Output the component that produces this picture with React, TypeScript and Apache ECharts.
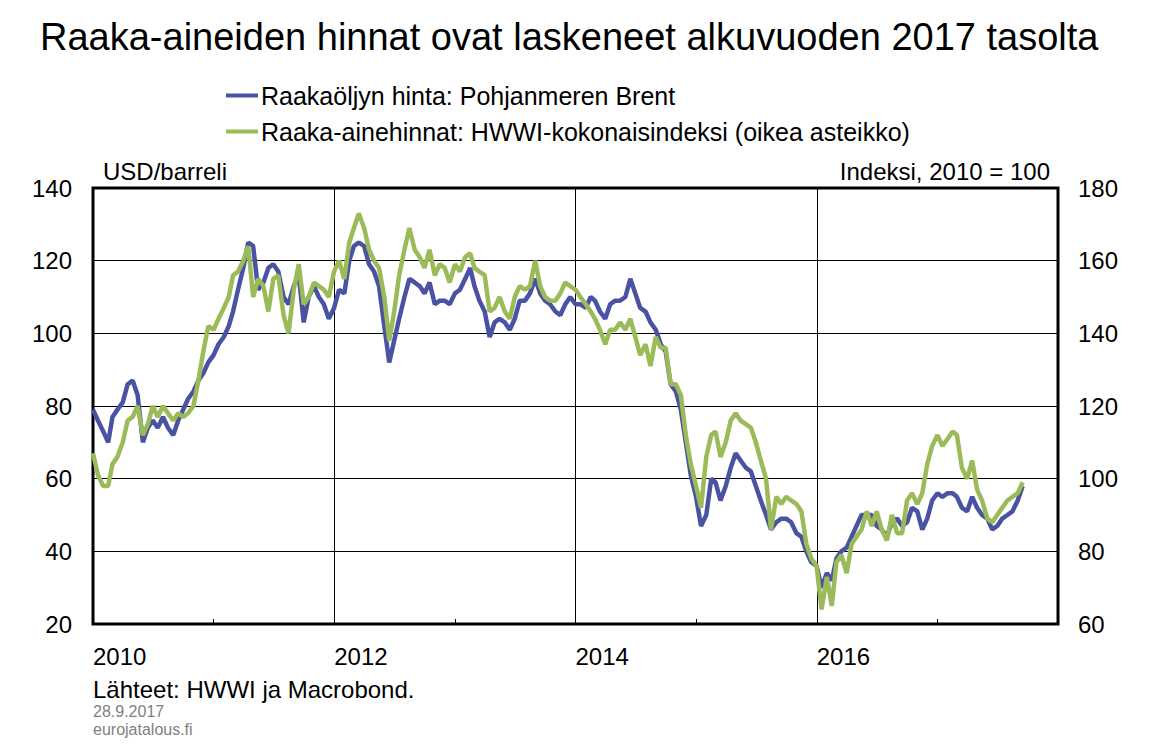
import React, { useEffect, useRef } from "react";
import * as echarts from "echarts";

const TITLE = "Raaka-aineiden hinnat ovat laskeneet alkuvuoden 2017 tasolta";
const SERIES_NAMES = [
  "Raakaöljyn hinta: Pohjanmeren Brent",
  "Raaka-ainehinnat: HWWI-kokonaisindeksi (oikea asteikko)",
];
const LEFT_UNIT = "USD/barreli";
const RIGHT_UNIT = "Indeksi, 2010 = 100";
const SOURCE = "Lähteet: HWWI ja Macrobond.";
const DATE_TEXT = "28.9.2017";
const SITE = "eurojatalous.fi";
const YEAR_LABELS = [2010, 2012, 2014, 2016];

// Brent, USD/barrel, half-monthly readings from Jan 2010 to Sep 2017
const brent = [
  // 2010
  79, 76, 73, 70, 77, 79, 81, 86, 87, 83, 70, 74, 76, 74, 77, 74, 72, 76, 79, 82, 84, 87, 89, 92,
  // 2011
  94, 97, 99, 102, 106, 112, 118, 125, 124, 112, 114, 118, 119, 117, 110, 108, 113, 116, 103, 110, 113, 110, 108, 104,
  // 2012
  107, 112, 111, 120, 124, 125, 124, 119, 117, 113, 102, 92, 98, 104, 110, 115, 114, 113, 111, 114, 108, 109, 109, 108,
  // 2013
  111, 112, 115, 118, 113, 109, 106, 99, 103, 104, 103, 101, 104, 109, 109, 111, 115, 111, 109, 108, 106, 105, 108, 110,
  // 2014
  108, 108, 107, 110, 109, 106, 104, 108, 109, 109, 110, 115, 111, 107, 106, 103, 101, 97, 95, 86, 84, 79, 70, 61,
  // 2015
  55, 47, 50, 60, 59, 54, 58, 63, 67, 65, 63, 62, 58, 54, 50, 46, 48, 49, 49, 48, 45, 44, 40, 37,
  // 2016
  36, 30, 34, 32, 38, 40, 41, 44, 47, 50, 50, 50, 47, 46, 44, 48, 49, 47, 48, 52, 51, 46, 49, 54,
  // 2017
  56, 55, 56, 56, 55, 52, 51, 55, 52, 50, 49, 46, 47, 49, 50, 51, 54, 58,
];

// HWWI total index, 2010 = 100 (right axis)
const hwwi = [
  // 2010
  107, 101, 98, 98, 104, 106, 110, 116, 117, 120, 112, 115, 120, 117, 120, 118, 116, 118, 117, 118, 120, 127, 135, 142,
  // 2011
  141, 144, 147, 150, 156, 157, 160, 164, 150, 155, 153, 146, 155, 156, 145, 140, 152, 159, 148, 150, 154, 153, 152, 150,
  // 2012
  157, 160, 155, 165, 169, 173, 169, 163, 160, 158, 150, 138, 146, 156, 163, 169, 163, 161, 158, 163, 156, 159, 158, 154,
  // 2013
  159, 157, 161, 162, 158, 157, 156, 146, 147, 150, 146, 144, 150, 153, 152, 153, 160, 153, 150, 149, 149, 151, 154, 153,
  // 2014
  152, 150, 148, 146, 144, 141, 137, 141, 141, 143, 141, 144, 139, 134, 137, 131, 139, 136, 136, 126, 126, 123, 112, 104,
  // 2015
  98, 92, 106, 112, 113, 106, 110, 116, 118, 116, 115, 114, 110, 105, 100, 86, 95, 93, 95, 94, 93, 91, 82, 78,
  // 2016
  76, 64, 73, 65, 77, 79, 74, 82, 84, 86, 91, 87, 91, 86, 83, 90, 85, 85, 94, 96, 93, 96, 104, 109,
  // 2017
  112, 109, 111, 113, 112, 103, 100, 105, 97, 94, 89, 88, 90, 92, 94, 95, 96, 99,
];

const DAY = 86400000;
const X_MIN = Date.UTC(2010, 0, 1);
const X_MAX = Date.UTC(2018, 0, 1);

// observation dates: 1st and 16th of each month
const dates = brent.map((_, k) =>
  Date.UTC(2010 + Math.floor(k / 24), Math.floor((k % 24) / 2), k % 2 ? 16 : 1)
);

const FONT = "Arial, 'Liberation Sans', sans-serif";
const BLUE = "#4A52A3";
const GREEN = "#9BBB59";

export default function App() {
  const ref = useRef<HTMLDivElement>(null);

  useEffect(() => {
    if (!ref.current) return;
    const chart = echarts.init(ref.current, undefined, { renderer: "svg" });
    const txt = (text: string, x: number, y: number, size: number, align = "left", fill = "#000") => ({
      type: "text",
      x,
      y,
      silent: true,
      style: {
        text,
        fill,
        fontSize: size,
        fontFamily: FONT,
        textAlign: align,
        textVerticalAlign: "middle",
      },
    });
    chart.setOption({
      animation: false,
      backgroundColor: "#fff",
      grid: {
        left: 93,
        right: 94,
        top: 188,
        height: 436,
        show: true,
        borderColor: "#000",
        borderWidth: 3,
        backgroundColor: "transparent",
        containLabel: false,
      },
      legend: {
        orient: "vertical",
        left: 221,
        top: 78,
        itemWidth: 32,
        itemHeight: 4,
        itemGap: 11,
        icon: "rect",
        selectedMode: false,
        textStyle: { fontSize: 25, color: "#000", fontFamily: FONT, padding: [0, 0, 0, -2] },
        data: SERIES_NAMES,
      },
      xAxis: [
        {
          type: "value",
          min: X_MIN,
          max: X_MAX,
          interval: 365.25 * DAY,
          axisLine: { show: false },
          axisTick: { show: true, inside: true, length: 5, lineStyle: { color: "#000", width: 1 } },
          splitLine: { show: false },
          axisLabel: {
            formatter: (v: number) => {
              const y = new Date(v + 2 * DAY).getUTCFullYear();
              return YEAR_LABELS.includes(y) ? String(y) : "";
            },
            align: "left",
            margin: 20,
            color: "#000",
            fontSize: 24,
            fontFamily: FONT,
            showMaxLabel: false,
          },
        },
        {
          type: "value",
          position: "top",
          min: X_MIN,
          max: X_MAX,
          interval: 730.5 * DAY,
          axisLine: { show: false },
          axisTick: { show: false },
          axisLabel: { show: false },
          splitLine: { show: true, lineStyle: { color: "#000", width: 1 } },
        },
      ],
      yAxis: [
        {
          type: "value",
          position: "left",
          min: 20,
          max: 140,
          interval: 20,
          axisLine: { show: false },
          axisTick: { show: false },
          splitLine: { show: true, lineStyle: { color: "#000", width: 1 } },
          axisLabel: { color: "#000", fontSize: 24, fontFamily: FONT, margin: 21 },
        },
        {
          type: "value",
          position: "right",
          min: 60,
          max: 180,
          interval: 20,
          axisLine: { show: false },
          axisTick: { show: false },
          splitLine: { show: false },
          axisLabel: { color: "#000", fontSize: 24, fontFamily: FONT, margin: 20 },
        },
      ],
      series: [
        {
          type: "line",
          name: SERIES_NAMES[0],
          xAxisIndex: 0,
          yAxisIndex: 0,
          data: dates.map((d, i) => [d, brent[i]]),
          showSymbol: false,
          symbol: "none",
          lineStyle: { color: BLUE, width: 4.5 },
          itemStyle: { color: BLUE },
          z: 3,
        },
        {
          type: "line",
          name: SERIES_NAMES[1],
          xAxisIndex: 0,
          yAxisIndex: 1,
          data: dates.map((d, i) => [d, hwwi[i]]),
          showSymbol: false,
          symbol: "none",
          lineStyle: { color: GREEN, width: 4.5 },
          itemStyle: { color: GREEN },
          z: 4,
        },
      ],
      graphic: [
        txt(TITLE, 40, 37, 38),
        txt(LEFT_UNIT, 103, 171, 24),
        txt(RIGHT_UNIT, 1050, 171, 24, "right"),
        txt(SOURCE, 93, 689, 24),
        txt(DATE_TEXT, 93, 711, 16, "left", "#808080"),
        txt(SITE, 93, 729, 16, "left", "#808080"),
      ],
    });
    return () => chart.dispose();
  }, []);

  return (
    <div
      ref={ref}
      style={{ position: "fixed", left: 0, top: 0, width: 1152, height: 753, background: "#fff" }}
    />
  );
}
